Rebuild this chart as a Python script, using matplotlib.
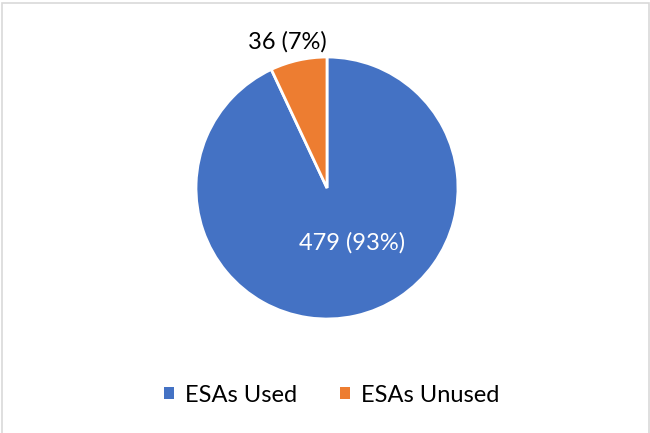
import matplotlib.pyplot as plt
from matplotlib.patches import Rectangle, Patch

labels = ["ESAs Used", "ESAs Unused"]
counts = [479, 36]
shares = [93, 7]
colors = ["#4472C4", "#ED7D31"]

plt.rcParams['font.family'] = ['Lato', 'DejaVu Sans']

fig = plt.figure(figsize=(6.5, 4.33), dpi=100)
fig.patches.append(Rectangle((1.5 / 650, -0.1), 647 / 650, 1.1 - 3.5 / 433,
                             transform=fig.transFigure, fill=False,
                             edgecolor="#D9D9D9", linewidth=1.2))

cx, cy, r = 327, 188, 131
ax = fig.add_axes([(cx - r) / 650, (433 - cy - r) / 433, 2 * r / 650, 2 * r / 433])
ax.pie(counts, colors=colors, startangle=90, counterclock=False, radius=1,
       wedgeprops=dict(edgecolor="white", linewidth=2))
ax.set_xlim(-1, 1)
ax.set_ylim(-1, 1)
ax.set_aspect("equal")
ax.axis("off")

ax.text(0.19, -0.42, f"{counts[0]} ({shares[0]}%)", color="white",
        fontsize=17, ha="center", va="center")
ax.text(-0.305, 1.115, f"{counts[1]} ({shares[1]}%)", color="black",
        fontsize=17, ha="center", va="center", clip_on=False)

handles = [Patch(facecolor=c, label=l) for c, l in zip(colors, labels)]
fig.legend(handles=handles, loc="center", bbox_to_anchor=(0.51, 1 - 395 / 433),
           ncol=2, frameon=False, fontsize=17, handlelength=0.45, handleheight=0.45,
           handletextpad=0.45, columnspacing=1.8)

fig.savefig("out.png", dpi=100)
